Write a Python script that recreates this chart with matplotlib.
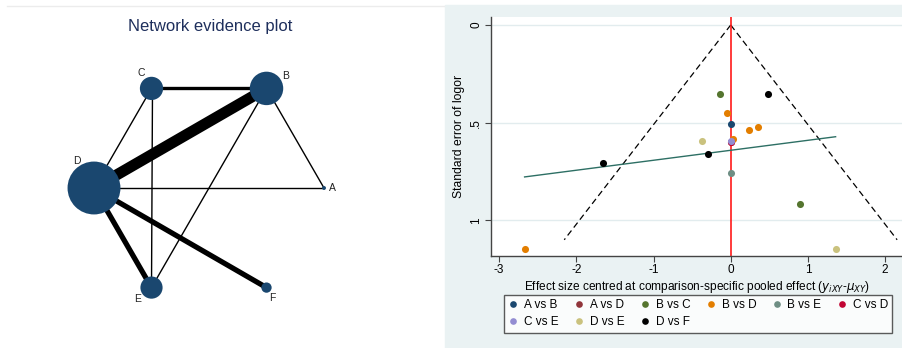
import matplotlib.pyplot as plt
import matplotlib.patches as mpatches
from matplotlib.lines import Line2D
import numpy as np

plt.rcParams['font.family'] = ['Liberation Sans', 'DejaVu Sans']
plt.rcParams['axes.unicode_minus'] = False

# network: treatments, node sizes and edges (studies per comparison)
nodes = ['A', 'B', 'C', 'D', 'E', 'F']
node_size = [8, 580, 280, 1450, 255, 55]
edges = [('A', 'B'), ('A', 'D'), ('B', 'C'), ('B', 'D'), ('B', 'E'),
         ('C', 'D'), ('C', 'E'), ('D', 'E'), ('D', 'F')]
edge_width = [1.0, 1.0, 2.4, 8.0, 1.0, 1.0, 1.0, 3.8, 3.8]

# comparison-adjusted funnel plot data
comparisons = ['A vs B', 'A vs D', 'B vs C', 'B vs D', 'B vs E',
               'C vs D', 'C vs E', 'D vs E', 'D vs F']
colors = ['#1a476f', '#90353b', '#55752f', '#e37e00', '#6e8e84',
          '#c10534', '#938dd2', '#cac27e', '#000000']
study_comp = ['A vs B', 'A vs D', 'B vs C', 'B vs C', 'B vs D', 'B vs D',
              'B vs D', 'B vs D', 'B vs D', 'B vs E', 'C vs D', 'C vs E',
              'D vs E', 'D vs E', 'D vs F', 'D vs F', 'D vs F']
effect = [0.0, 0.0, -0.139, 0.90, -0.043, 0.238, 0.35, 0.026, -2.67,
          0.0, 0.0, 0.0, -0.368, 1.359, 0.489, -1.658, -0.29]
se = [0.509, 0.598, 0.352, 0.915, 0.449, 0.538, 0.522, 0.585, 1.145,
      0.756, 0.600, 0.594, 0.592, 1.145, 0.353, 0.708, 0.662]
funnel_se_max = 1.10
reg_intercept = 0.6416
reg_slope = -0.0511

W, H = 903, 348
fig = plt.figure(figsize=(W / 100, H / 100), dpi=100)

# ---- left panel: network plot (axes in pixel units) ----
axn = fig.add_axes([0, 0, 445 / W, 1])
axn.set_xlim(0, 445)
axn.set_ylim(H, 0)
axn.axis('off')
axn.plot([7, 445], [6, 6], color='#ececec', lw=1)

cx, cy, R = 209, 188, 115
ang = np.deg2rad(np.arange(len(nodes)) * 60)
pos = {n: (cx + R * np.cos(a), cy - R * np.sin(a)) for n, a in zip(nodes, ang)}

for (a, b), w in zip(edges, edge_width):
    axn.plot([pos[a][0], pos[b][0]], [pos[a][1], pos[b][1]],
             color='black', lw=w, solid_capstyle='butt', zorder=1)

xs = [pos[n][0] for n in nodes]
ys = [pos[n][1] for n in nodes]
axn.scatter(xs, ys, s=node_size, color='#1a476f', zorder=2, linewidths=0)

label_off = {'A': (8, 0), 'B': (19, -12), 'C': (-10, -15),
             'D': (-17, -27), 'E': (-14, 11), 'F': (6, 10)}
for n in nodes:
    dx, dy = label_off[n]
    axn.text(pos[n][0] + dx, pos[n][1] + dy, n, fontsize=7.5,
             ha='center', va='center', color='#222222')

axn.text(210, 26, 'Network evidence plot', fontsize=12, color='#1e2f5c',
         ha='center', va='center')

# ---- right panel: funnel plot ----
fig.patches.append(mpatches.Rectangle((445 / W, 0), 1 - 445 / W, 1 - 5 / H,
                                      transform=fig.transFigure,
                                      color='#eaf2f3', zorder=-1))

ax = fig.add_axes([490.7 / W, (H - 256) / H, (W - 490.7) / W, (256 - 17) / H])
ax.set_facecolor('white')
ax.set_xlim(-3.109, 2.232)
ax.set_ylim(1.183, -0.041)
for s in ['top', 'right']:
    ax.spines[s].set_visible(False)
for s in ['left', 'bottom']:
    ax.spines[s].set_color('#444444')
    ax.spines[s].set_linewidth(1)

ax.set_yticks([0, 0.5, 1])
ax.set_yticklabels(['0', '.5', '1'], rotation=90, va='center')
ax.set_xticks([-3, -2, -1, 0, 1, 2])
ax.tick_params(length=4, width=0.8, color='#444444', labelsize=8.5, pad=2)
ax.grid(axis='y', color='#e2ecee', lw=1)
ax.set_axisbelow(True)

se_line = np.array([0, funnel_se_max])
ax.plot(-1.96 * se_line, se_line, color='black', ls=(0, (5, 3)), lw=0.9)
ax.plot(1.96 * se_line, se_line, color='black', ls=(0, (5, 3)), lw=0.9)
ax.axvline(0, color='#ff1a1a', lw=1.2)

xr = np.array([min(effect), max(effect)])
ax.plot(xr, reg_intercept + reg_slope * xr, color='#2d6f64', lw=1)

effect = np.array(effect)
se = np.array(se)
study_comp = np.array(study_comp)
handles = []
for c, col in zip(comparisons, colors):
    m = study_comp == c
    ax.scatter(effect[m], se[m], s=26, color=col, zorder=3, linewidths=0)
    handles.append(Line2D([], [], ls='', marker='o', ms=4.8, color=col,
                          markeredgewidth=0, label=c))

ax.set_ylabel('Standard error of logor', fontsize=8.7, labelpad=4)
ax.set_xlabel('Effect size centred at comparison-specific pooled effect '
              r'($y_{iXY}$-$\mu_{XY}$)', fontsize=8.6, labelpad=2)

# legend filled column-wise, so reorder for row-wise reading
order = [0, 6, 1, 7, 2, 8, 3, 4, 5]
leg = fig.legend([handles[i] for i in order], [comparisons[i] for i in order],
                 loc='upper left', bbox_to_anchor=(504.3 / W, 1 - 295 / H),
                 borderaxespad=0, ncol=6, fontsize=8.5, frameon=True,
                 fancybox=False, edgecolor='#333333', handlelength=0.8,
                 handletextpad=0.5, columnspacing=1.35, borderpad=0.35,
                 labelspacing=0.45)
leg.get_frame().set_linewidth(1)

fig.savefig('out.png', dpi=100)
